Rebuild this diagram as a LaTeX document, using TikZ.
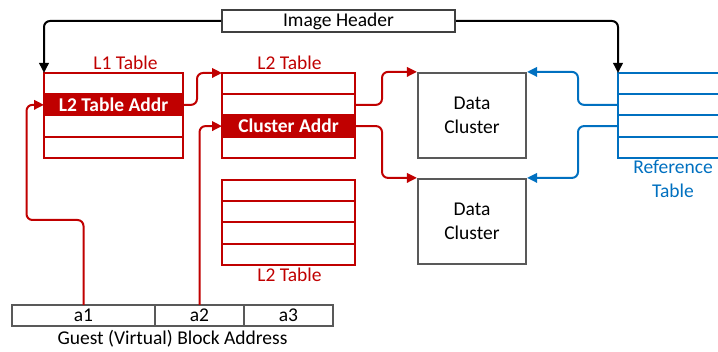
\documentclass[tikz,border=0pt]{standalone}
\usepackage{fontspec}
\setmainfont{Carlito}
\usetikzlibrary{arrows.meta, positioning}
\definecolor{tblred}{HTML}{C00000}
\definecolor{refblue}{HTML}{0070C0}
\definecolor{boxgray}{HTML}{595959}
\definecolor{hdrgray}{HTML}{404040}
\newcommand{\diagfont}{\fontsize{19.5}{23.5}\selectfont}

\begin{document}
\begin{tikzpicture}[
  x=1pt, y=1pt,
  font=\diagfont,
  >={Triangle[length=10pt, width=9.5pt]},
  redrow/.style={draw=tblred, line width=2pt, minimum height=21.25pt,
    inner sep=0pt, outer sep=0pt},
  addrrow/.style={redrow, fill=tblred, text=white, font=\diagfont\bfseries},
  bluerow/.style={draw=refblue, line width=2pt, minimum width=120pt,
    minimum height=21.25pt, inner sep=0pt, outer sep=0pt},
  addrcell/.style={draw=boxgray, line width=2pt, minimum height=21pt,
    inner sep=0pt, outer sep=0pt},
  hdrbox/.style={draw=hdrgray, line width=2pt, minimum width=233pt,
    minimum height=22pt, inner sep=0pt},
  cluster/.style={draw=boxgray, line width=2.2pt, minimum width=108pt,
    minimum height=85pt, align=center},
  tbllabel/.style={text=tblred, anchor=base},
  redarr/.style={->, tblred, line width=2pt, rounded corners=6pt},
  bluearr/.style={->, refblue, line width=2pt, rounded corners=6pt},
  blkarr/.style={->, black, line width=2pt, rounded corners=6pt},
]

% Frame
\clip (0,0) rectangle (718,351);

% =============================================
% Image header
% =============================================

\node[hdrbox] (hdr) at (338.5,330) {Image Header};

% =============================================
% L1 table
% =============================================

\node[tbllabel] (l1lbl) at (125.5,281) {L1 Table};
\node[redrow, minimum width=139pt] (l1r1) at (113.5,267.4) {};
\node[addrrow, minimum width=139pt, below=0pt of l1r1] (l1r2) {L2 Table Addr};
\node[redrow, minimum width=139pt, below=0pt of l1r2] (l1r3) {};
\node[redrow, minimum width=139pt, below=0pt of l1r3] (l1r4) {};

% =============================================
% L2 tables
% =============================================

% Upper L2 table
\node[tbllabel] (l2lbl) at (289.5,281) {L2 Table};
\node[redrow, minimum width=133pt] (l2r1) at (288.5,267.4) {};
\node[redrow, minimum width=133pt, below=0pt of l2r1] (l2r2) {};
\node[addrrow, minimum width=133pt, below=0pt of l2r2] (l2r3) {Cluster Addr};
\node[redrow, minimum width=133pt, below=0pt of l2r3] (l2r4) {};

% Lower L2 table
\node[redrow, minimum width=133pt] (l2br1) at (288.5,160.6) {};
\node[redrow, minimum width=133pt, below=0pt of l2br1] (l2br2) {};
\node[redrow, minimum width=133pt, below=0pt of l2br2] (l2br3) {};
\node[redrow, minimum width=133pt, below=0pt of l2br3] (l2br4) {};
\node[tbllabel] (l2blbl) at (289.5,69) {L2 Table};

% =============================================
% Data clusters
% =============================================

\node[cluster] (dc1) at (472,235.5) {Data\\Cluster};
\node[cluster] (dc2) at (472,129.5) {Data\\Cluster};

% =============================================
% Reference table
% =============================================

\node[bluerow] (ref1) at (678,267.4) {};
\node[bluerow, below=0pt of ref1] (ref2) {};
\node[bluerow, below=0pt of ref2] (ref3) {};
\node[bluerow, below=0pt of ref3] (ref4) {};
\node[text=refblue, align=center] (reflbl) at (673,172) {Reference\\Table};

% =============================================
% Guest block address
% =============================================

\node[addrcell, minimum width=143pt] (ga1) at (83.5,35.5) {a1};
\node[addrcell, minimum width=89pt, right=0pt of ga1] (ga2) {a2};
\node[addrcell, minimum width=89pt, right=0pt of ga2] (ga3) {a3};
\node[anchor=base] (galbl) at (172.5,6) {Guest (Virtual) Block Address};

% =============================================
% Connectors
% =============================================

% Header pointers
\draw[blkarr] (hdr.west) -| (l1r1.north west);
\draw[blkarr] (hdr.east) -| (ref1.north west);

% Address bits into tables
\draw[redarr] (ga1.north) |- ++(-57,85) |- (l1r2.west);
\draw[redarr] (ga2.north) |- (l2r3.west);

% Table walk
\draw[redarr] (l1r2.east) -- ++(14,0) |- (l2r1.north west);
\draw[redarr] (l2r2.east) -- ++(27,0) |- (dc1.north west);
\draw[redarr] (l2r3.east) -- ++(27,0) |- (dc2.north west);

% Reference counts
\draw[bluearr] (ref2.west) -- ++(-40,0) |- (dc1.north east);
\draw[bluearr] (ref3.west) -- ++(-40,0) |- (dc2.north east);

\end{tikzpicture}
\end{document}
